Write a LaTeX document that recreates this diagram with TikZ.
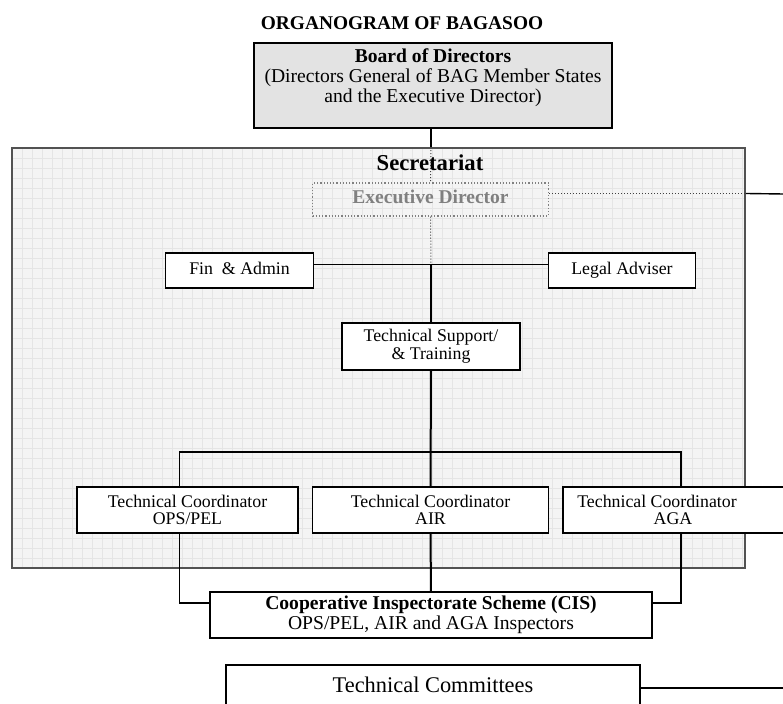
\documentclass[tikz,border=0pt]{standalone}
\usepackage{fontspec}
\setmainfont{Liberation Serif}
\usetikzlibrary{positioning}

\definecolor{boardgray}{gray}{0.89}
\definecolor{secfill}{gray}{0.955}
\definecolor{secline}{gray}{0.9}
\definecolor{secedge}{gray}{0.32}
\definecolor{edgray}{gray}{0.5}

\tikzset{
  orgbox/.style={draw, line width=0.65pt, fill=white, inner sep=0pt, align=center,
    font=\fontsize{8.9}{8.8}\selectfont},
  boardbox/.style={draw, line width=0.75pt, fill=boardgray, inner sep=0pt},
  boardtext/.style={align=center, inner sep=0pt, font=\fontsize{9.8}{10}\selectfont},
  titletext/.style={inner sep=0pt, font=\fontsize{9.7}{10}\selectfont\bfseries},
  secbox/.style={draw=secedge, line width=0.8pt, inner sep=0pt},
  secgrid/.style={draw=secline, line width=0.3pt},
  sectext/.style={inner sep=0pt, font=\fontsize{11.35}{12}\selectfont\bfseries},
  edbox/.style={draw=edgray, densely dotted, line width=0.6pt, inner sep=0pt,
    text=edgray, font=\fontsize{9.75}{10}\selectfont\bfseries},
  spine/.style={line width=1pt},
  link/.style={line width=0.7pt},
  faintline/.style={line width=0.5pt, densely dotted, draw=black!75}
}

\begin{document}
\begin{tikzpicture}[x=0.5pt, y=-0.5pt]

  \useasboundingbox (0,0) rectangle (783,704);
  \clip (0,0) rectangle (783,704);
  \fill[white] (0,0) rectangle (783,704);

  % === Titolo e consiglio ===
  \node[titletext] (title) at (402,23) {ORGANOGRAM OF BAGASOO};

  \node[boardbox, minimum width=179pt, minimum height=42.5pt] (board) at (433,85.5) {};
  \node[boardtext] (boardtxt) at (433,78)
    {\textbf{Board of Directors}\\(Directors General of BAG Member States\\and the Executive Director)};

  % === Segretariato (sfondo a griglia) ===
  \fill[secfill] (12,148) rectangle (745,568);
  \foreach \gx in {22,32,...,742} \draw[secgrid] (\gx,148) -- (\gx,568);
  \foreach \gy in {158,168,...,558} \draw[secgrid] (12,\gy) -- (745,\gy);
  \node[secbox, minimum width=366.5pt, minimum height=210pt] (sec) at (378.5,358) {};
  \node[sectext] (sectitle) at (430,163) {Secretariat};

  \node[edbox, minimum width=118pt, minimum height=16.5pt] (ed) at (430.5,199.5) {\strut Executive Director};

  \node[orgbox, minimum width=74pt, minimum height=17.5pt] (fin) at (239.5,270.5) {\strut Fin~ \& Admin};
  \node[orgbox, minimum width=73.5pt, minimum height=17.5pt] (legal) at (622,270.5) {\strut Legal Adviser};

  \node[orgbox, minimum width=89pt, minimum height=23.5pt] (ts) at (431,346.5) {Technical Support/\\\& Training};

  % Coordinatori tecnici
  \node[orgbox, minimum width=110.5pt, minimum height=23pt] (ops) at (187.5,510) {Technical Coordinator\\OPS/PEL};
  \node[orgbox, minimum width=118pt, minimum height=23pt] (air) at (430.5,510) {Technical Coordinator\\AIR};
  \node[orgbox, minimum width=118pt, minimum height=23pt] (aga) at (681,510)
    {Technical Coordinator\hspace*{24pt}\\AGA\hspace*{8pt}};

  % === Fuori dal segretariato ===
  \node[orgbox, minimum width=221pt, minimum height=23pt, font=\fontsize{9.8}{8.6}\selectfont] (cis) at (431,615)
    {\textbf{Cooperative Inspectorate Scheme (CIS)}\\OPS/PEL, AIR and AGA Inspectors};

  \node[orgbox, minimum width=207pt, minimum height=20pt, font=\fontsize{11.2}{12}\selectfont] (tc) at (433,685)
    {Technical Committees};

  \coordinate (cross) at (431,264);
  \coordinate (bar) at (431,452);
  \coordinate (edout) at (783,194);
  \coordinate (tcout) at (783,688);

  % === Collegamenti ===
  \draw[spine] ([xshift=-1pt]board.south) -- ([xshift=-1pt]board.south |- sec.north);
  \draw[faintline] ([xshift=-1pt]board.south |- sec.north) -- (ed.north);
  \draw[faintline] (ed.south) -- (cross);
  \draw[spine] (cross) -- (ts.north);
  \draw[link] ([yshift=3pt]fin.east) -- ([yshift=3pt]legal.west);

  \draw[faintline] ([yshift=3pt]ed.east) -- ([yshift=3pt]ed.east -| sec.east);
  \draw[link] ([yshift=3pt]ed.east -| sec.east) -- (edout);

  \draw[spine] (ts.south) -- (air.north);
  \draw[link] ([xshift=-4pt]ops.north) -- ([xshift=-4pt]ops.north |- bar) -- (aga.north |- bar) -- (aga.north);

  \draw[spine] (air.south) -- (cis.north);
  \draw[link] ([xshift=-4pt]ops.south) |- ([yshift=6pt]cis.west);
  \draw[link] (aga.south) |- ([yshift=6pt]cis.east);

  \draw[link] ([yshift=-1.5pt]tc.east) -- (tcout);

\end{tikzpicture}
\end{document}
